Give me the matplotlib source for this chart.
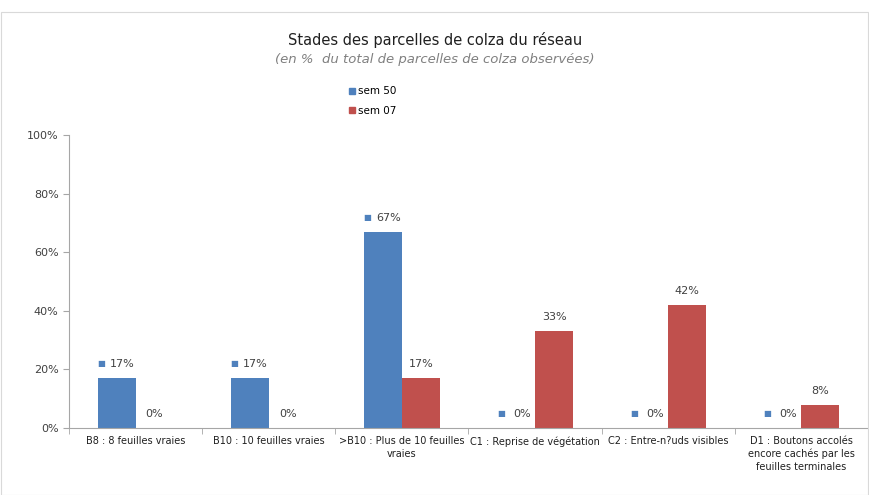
import matplotlib.pyplot as plt
import numpy as np
from matplotlib.patches import Rectangle
from matplotlib.lines import Line2D

categories = ['B8 : 8 feuilles vraies', 'B10 : 10 feuilles vraies',
              '>B10 : Plus de 10 feuilles\nvraies', 'C1 : Reprise de végétation',
              'C2 : Entre-n?uds visibles',
              'D1 : Boutons accolés\nencore cachés par les\nfeuilles terminales']
sem50 = [17, 17, 67, 0, 0, 0]
sem07 = [0, 0, 17, 33, 42, 8]
yticks = [0, 20, 40, 60, 80, 100]

blue = '#4f81bd'
red = '#c0504d'
gray = '#a6a6a6'
txt = '#404040'

fig = plt.figure(figsize=(8.7, 4.95), dpi=100)
fig.patches.append(Rectangle((0.001, 0.001), 0.997, 0.975, transform=fig.transFigure,
                             fill=False, edgecolor='#d9d9d9', lw=0.8))
ax = fig.add_axes([69 / 870, (495 - 428) / 495, (868 - 69) / 870, (428 - 135) / 495])

x = np.arange(len(categories))
w = 0.285
ax.bar(x - w / 2, sem50, w, color=blue)
ax.bar(x + w / 2, sem07, w, color=red)

for i in range(len(categories)):
    xb = x[i] - w / 2
    ax.annotate('%d%%' % sem50[i], (xb, sem50[i]), xytext=(4, 6.5), textcoords='offset points',
                ha='center', va='bottom', fontsize=8, color=txt)
    ax.annotate('\u25a0', (xb, sem50[i]), xytext=(-11, 7), textcoords='offset points',
                ha='center', va='bottom', fontsize=6, color=blue)
    ax.annotate('%d%%' % sem07[i], (x[i] + w / 2, sem07[i]), xytext=(0, 6.5), textcoords='offset points',
                ha='center', va='bottom', fontsize=8, color=txt)

ax.set_xlim(-0.5, len(categories) - 0.5)
ax.set_ylim(0, 100)
ax.set_yticks(yticks)
ax.set_yticklabels(['%d%%' % t for t in yticks], fontsize=8, color=txt)
ax.set_xticks(x)
ax.set_xticklabels(categories, fontsize=7, color='#202020', linespacing=1.3)
ax.tick_params(axis='x', length=0, pad=6)
ax.set_xticks(np.arange(len(categories) + 1) - 0.5, minor=True)
ax.tick_params(axis='x', which='minor', length=4, color=gray)
ax.tick_params(axis='y', length=4, color=gray)
for s in ['top', 'right']:
    ax.spines[s].set_visible(False)
ax.spines['left'].set_color(gray)
ax.spines['bottom'].set_color(gray)

fig.text(435 / 870, 1 - 40 / 495, 'Stades des parcelles de colza du réseau', ha='center', va='center',
         fontsize=10.5, color='#202020')
fig.text(435 / 870, 1 - 59 / 495, '(en %  du total de parcelles de colza observées)', ha='center',
         va='center', fontsize=9.5, color='#808080', style='italic')

handles = [Line2D([], [], marker='s', ls='', color=blue, markersize=4),
           Line2D([], [], marker='s', ls='', color=red, markersize=4)]
fig.legend(handles, ['sem 50', 'sem 07'], loc='center left', bbox_to_anchor=(337 / 870, 1 - 101 / 495),
           frameon=False, fontsize=7.5, handletextpad=0.1, labelspacing=0.9, handlelength=1)

fig.savefig('out.png', dpi=100)
